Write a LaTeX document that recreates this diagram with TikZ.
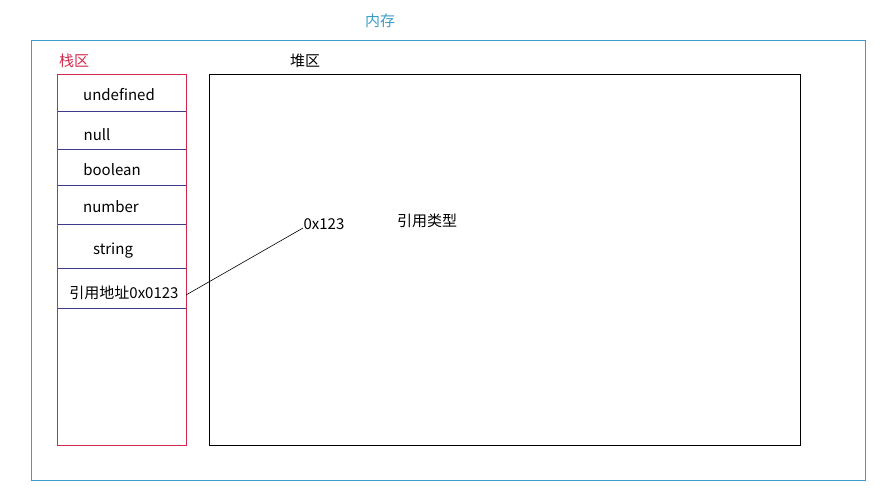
\documentclass[tikz,border=0pt]{standalone}
\usepackage{fontspec}
\setmainfont{Noto Sans CJK SC}
\begin{document}
\begin{tikzpicture}[x=1pt,y=-1pt,
  txt/.style={font=\fontsize{15}{18}\selectfont, inner sep=0pt, anchor=center},
  memline/.style={draw=memblue, line width=0.8pt},
  stackline/.style={draw=stackred, line width=0.8pt},
  divline/.style={draw=divblue, line width=0.7pt},
  heapline/.style={draw=black, line width=0.8pt}]
\definecolor{memblue}{HTML}{3A9CC8}
\definecolor{stackred}{HTML}{D0284C}
\definecolor{divblue}{HTML}{3C3C8C}
\useasboundingbox (0,0) rectangle (886,496);
% memory
\draw[memline] (31,40) rectangle (865,480);
\node[txt, text=memblue] (mem) at (380,21) {内存};
% stack
\node[txt, text=stackred] (stacklbl) at (74,61) {栈区};
\foreach \y in {111,149,185,224,268,308} \draw[divline] (57,\y) -- (186,\y);
\draw[stackline] (57,74) rectangle (186,445);
\node[txt] (s1) at (119,95) {undefined};
\node[txt] (s2) at (97,135) {null};
\node[txt] (s3) at (112,170) {boolean};
\node[txt] (s4) at (111,207) {number};
\node[txt] (s5) at (113,251) {string};
\node[txt] (s6) at (124,293) {引用地址0x0123};
% heap
\node[txt] (heaplbl) at (305,61) {堆区};
\draw[heapline] (209,74) rectangle (800,445);
\node[txt] (h1) at (324,224) {0x123};
\node[txt] (h2) at (427,221) {引用类型};
\coordinate (a) at (186,295);
\coordinate (b) at (303,228);
\draw[line width=0.6pt] (a) -- (b);
\end{tikzpicture}
\end{document}
